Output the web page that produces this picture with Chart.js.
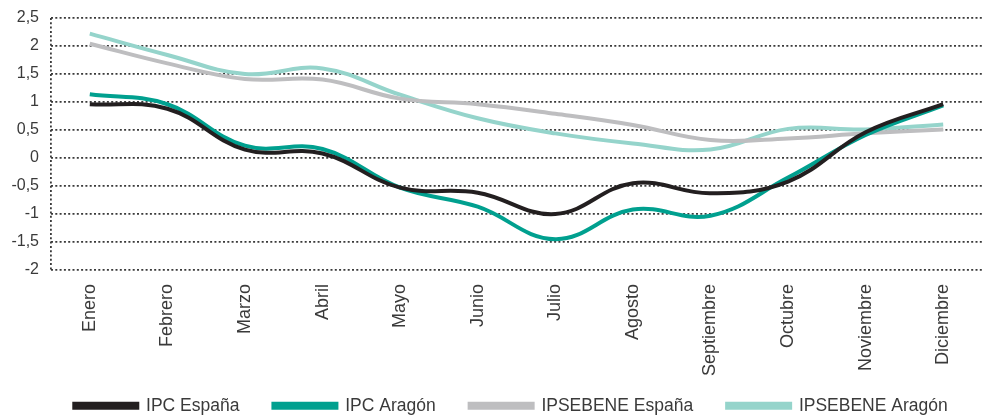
<!DOCTYPE html>
<html>
<head>
<meta charset="utf-8">
<script src="https://cdn.jsdelivr.net/npm/chart.js@4.4.0/dist/chart.umd.min.js"></script>
<style>
  html, body { margin: 0; padding: 0; background: #fff; }
  #wrap { width: 983px; height: 416px; position: relative; }
</style>
</head>
<body>
<div id="wrap"><canvas id="c"></canvas></div>
<script>
const categories = ["Enero","Febrero","Marzo","Abril","Mayo","Junio","Julio","Agosto","Septiembre","Octubre","Noviembre","Diciembre"];
const ipcEspana      = [0.96, 0.88, 0.15, 0.08, -0.53, -0.62, -1.0, -0.45, -0.63, -0.42, 0.46, 0.96];
const ipcAragon      = [1.14, 0.96, 0.22, 0.16, -0.53, -0.87, -1.45, -0.92, -1.03, -0.35, 0.41, 0.94];
const ipsebeneEspana = [2.04, 1.69, 1.41, 1.40, 1.06, 0.96, 0.79, 0.59, 0.32, 0.35, 0.44, 0.51];
const ipsebeneAragon = [2.22, 1.84, 1.50, 1.60, 1.13, 0.71, 0.44, 0.26, 0.15, 0.52, 0.51, 0.60];
const yTicks = [2.5, 2, 1.5, 1, 0.5, 0, -0.5, -1, -1.5, -2];

const FONT = "'Liberation Sans', Arial, sans-serif";
const TXT = '#3a3a3a';
const DOT = '#3a3a3a';
const DASH = [2, 2.3];

function ds(label, data, color) {
  return { label, data, borderColor: color, backgroundColor: color, borderWidth: 4,
           pointRadius: 0, tension: 0.4, fill: false, borderCapStyle: 'butt' };
}

// Legend: compact box height, items positioned near bottom, slight right shift
const legendLayout = {
  id: 'legendLayout',
  afterInit(chart) {
    const lg = chart.legend;
    if (!lg) return;
    const origFit = lg.fit.bind(lg);
    lg.fit = function () { origFit(); this.height = 36; };
    const origDraw = lg._draw.bind(lg);
    lg._draw = function () {
      const t = this.top, l = this.left, r = this.right;
      const pad = this.options.labels.padding;
      const dx = 20;
      this.top = t + 17 - pad;
      this.left = l + dx; this.right = r + dx;
      origDraw();
      this.top = t; this.left = l; this.right = r;
    };
  }
};

new Chart(document.getElementById('c'), {
  type: 'line',
  data: {
    labels: categories,
    datasets: [
      ds('IPC España', ipcEspana, '#231f20'),
      ds('IPC Aragón', ipcAragon, '#00a08f'),
      ds('IPSEBENE España', ipsebeneEspana, '#bebec0'),
      ds('IPSEBENE Aragón', ipsebeneAragon, '#95d4cb')
    ]
  },
  options: {
    responsive: true,
    maintainAspectRatio: false,
    animation: false,
    layout: { padding: { top: 18, right: 1, left: 0, bottom: 0 } },
    plugins: {
      tooltip: { enabled: false },
      legend: {
        position: 'bottom',
        labels: {
          boxWidth: 63, boxHeight: 4, padding: 34,
          color: TXT, font: { family: FONT, size: 17.5 }
        }
      }
    },
    scales: {
      x: {
        offset: true,
        afterFit: (axis) => { axis.height = 110; axis.paddingLeft = 0; axis.paddingRight = 0; },
        grid: {
          display: true, offset: true, drawTicks: false, drawOnChartArea: true, lineWidth: 1.8,
          color: (ctx) => ctx.index === 0 ? DOT : 'rgba(0,0,0,0)'
        },
        border: { display: false, dash: DASH },
        ticks: { color: TXT, font: { family: FONT, size: 18 }, minRotation: 90, maxRotation: 90, padding: 14, autoSkip: false }
      },
      y: {
        min: -2, max: 2.5,
        afterBuildTicks: (axis) => { axis.ticks = yTicks.map(v => ({ value: v })); },
        afterFit: (axis) => { axis.width = 51; axis.paddingTop = 0; axis.paddingBottom = 0; },
        grid: { color: DOT, lineWidth: 1.8, drawTicks: false },
        border: { display: false, dash: DASH },
        ticks: {
          color: TXT, font: { family: FONT, size: 16 }, padding: 12,
          callback: (v) => String(v).replace('.', ',')
        }
      }
    }
  },
  plugins: [legendLayout]
});
</script>
</body>
</html>
